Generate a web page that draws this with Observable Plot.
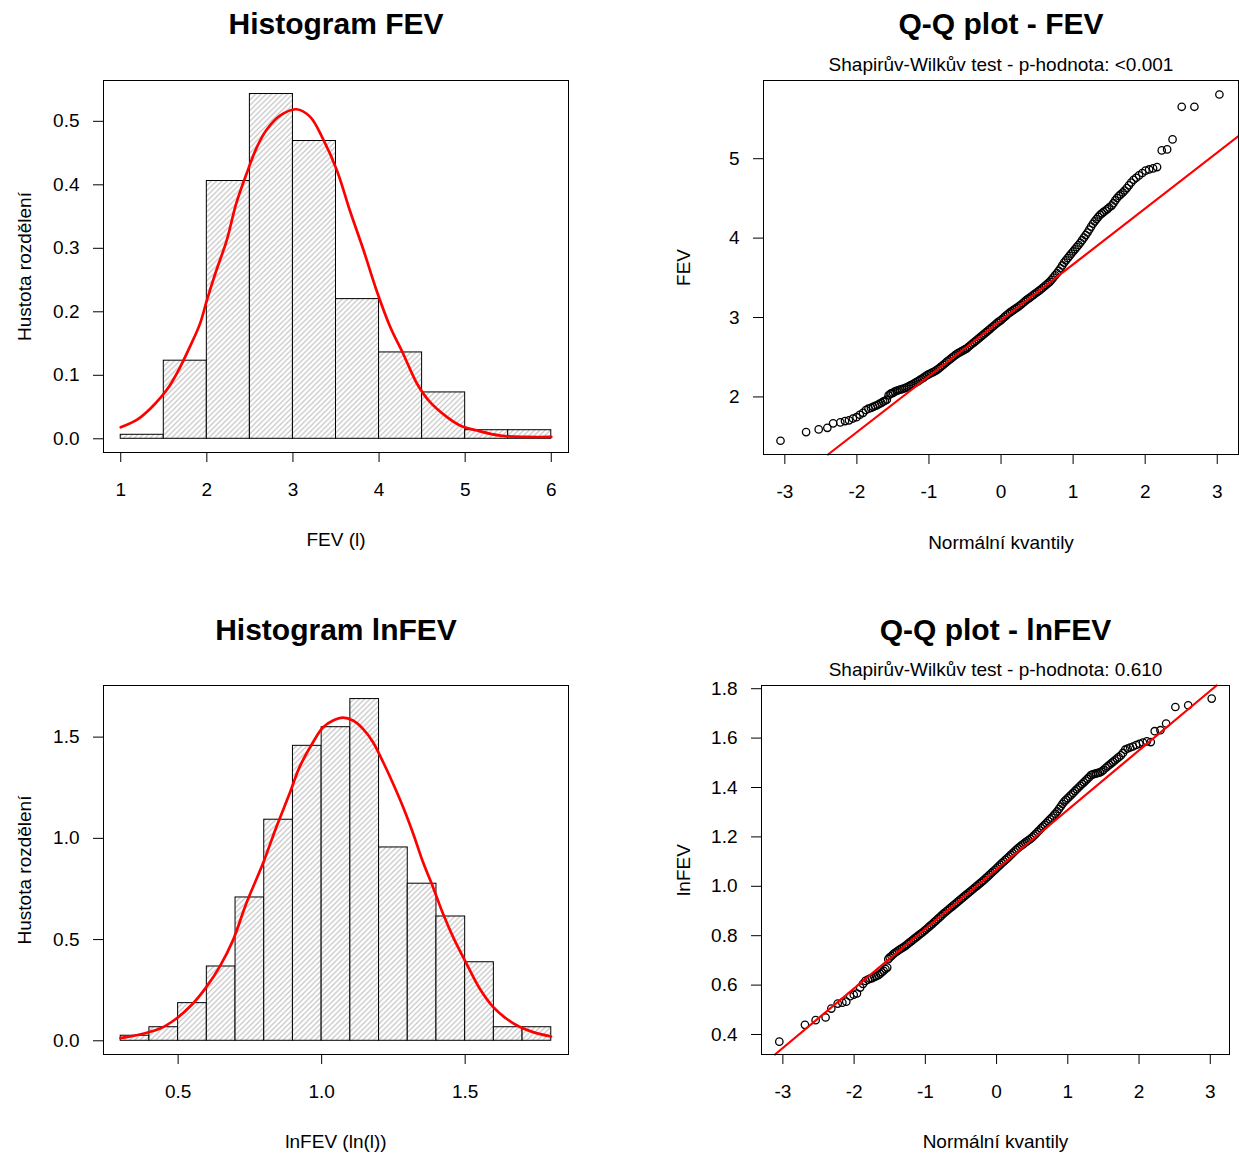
<!DOCTYPE html>
<html><head><meta charset="utf-8">
<script src="https://cdn.jsdelivr.net/npm/d3@7"></script>
<script src="https://cdn.jsdelivr.net/npm/@observablehq/plot@0.6"></script>
<style>
html,body{margin:0;padding:0;background:#fff;overflow:hidden}
#wrap{position:relative;width:1239px;height:1153px;background:#fff;overflow:hidden}
</style></head><body><div id="wrap"></div>
<script>
// ---------- DATA ----------
// Histogram FEV (density per bin)
const fevBinLo = [1, 1.5, 2, 2.5, 3, 3.5, 4, 4.5, 5, 5.5];
const fevBinHi = [1.5, 2, 2.5, 3, 3.5, 4, 4.5, 5, 5.5, 6];
const fevDensity = [0.0063, 0.123, 0.406, 0.543, 0.469, 0.220, 0.136, 0.073, 0.0135, 0.0135];
const fevKdeX = [1.0,1.2,1.34,1.47,1.57,1.69,1.80,1.92,2.0,2.11,2.23,2.34,2.46,2.58,2.69,2.85,3.04,3.20,3.35,3.51,3.66,3.82,3.97,4.13,4.28,4.44,4.59,4.79,4.94,5.14,5.41,5.72,6.0];
const fevKdeY = [0.018,0.031,0.047,0.066,0.084,0.113,0.144,0.181,0.218,0.265,0.312,0.370,0.417,0.459,0.486,0.509,0.519,0.507,0.472,0.423,0.360,0.297,0.234,0.176,0.134,0.087,0.058,0.034,0.021,0.013,0.005,0.003,0.003];

// Histogram lnFEV
const lnBinLo = [0.3,0.4,0.5,0.6,0.7,0.8,0.9,1.0,1.1,1.2,1.3,1.4,1.5,1.6,1.7];
const lnBinHi = [0.4,0.5,0.6,0.7,0.8,0.9,1.0,1.1,1.2,1.3,1.4,1.5,1.6,1.7,1.8];
const lnDensity = [0.025,0.067,0.186,0.367,0.708,1.092,1.457,1.549,1.688,0.955,0.776,0.614,0.388,0.067,0.067];
const lnKdeX = [0.299,0.377,0.435,0.493,0.551,0.598,0.644,0.691,0.737,0.795,0.842,0.888,0.923,0.970,1.005,1.040,1.074,1.109,1.144,1.179,1.214,1.249,1.284,1.319,1.353,1.388,1.423,1.458,1.505,1.551,1.598,1.644,1.691,1.737,1.799];
const lnKdeY = [0.013,0.035,0.059,0.109,0.183,0.265,0.364,0.496,0.677,0.874,1.055,1.220,1.352,1.475,1.549,1.582,1.596,1.582,1.541,1.475,1.377,1.270,1.154,1.023,0.883,0.759,0.627,0.512,0.380,0.257,0.166,0.109,0.068,0.043,0.021];

// Q-Q points: theoretical quantiles of the dense middle part (shared grid)
const qqGridX = [-1.5,-1.475,-1.45,-1.425,-1.4,-1.375,-1.35,-1.325,-1.3,-1.275,
 -1.25,-1.225,-1.2,-1.175,-1.15,-1.125,-1.1,-1.075,-1.05,-1.025,
 -1.0,-0.975,-0.95,-0.925,-0.9,-0.875,-0.85,-0.825,-0.8,-0.775,
 -0.75,-0.725,-0.7,-0.675,-0.65,-0.625,-0.6,-0.575,-0.55,-0.525,
 -0.5,-0.475,-0.45,-0.425,-0.4,-0.375,-0.35,-0.325,-0.3,-0.275,
 -0.25,-0.225,-0.2,-0.175,-0.15,-0.125,-0.1,-0.075,-0.05,-0.025,
 0,0.025,0.05,0.075,0.1,0.125,0.15,0.175,0.2,0.225,
 0.25,0.275,0.3,0.325,0.35,0.375,0.4,0.425,0.45,0.475,
 0.5,0.525,0.55,0.575,0.6,0.625,0.65,0.675,0.7,0.725,
 0.75,0.775,0.8,0.825,0.85,0.875,0.9,0.925,0.95,0.975,
 1.0,1.025,1.05,1.075,1.1,1.125,1.15,1.175,1.2,1.225,
 1.25,1.275,1.3,1.325,1.35,1.375,1.4,1.425,1.45,1.475,1.5];

// Q-Q FEV
const qqFevLowX = [-3.06,-2.705,-2.53,-2.41,-2.33,-2.23,-2.165,-2.11,-2.055,-2.005,-1.96,-1.915,-1.875,-1.84,-1.805,-1.775,-1.745,-1.715,-1.69,-1.66,-1.635,-1.61,-1.585,-1.56,-1.535,-1.52];
const qqFevLowY = [1.448,1.557,1.591,1.611,1.667,1.679,1.696,1.705,1.728,1.745,1.775,1.80,1.835,1.852,1.862,1.875,1.888,1.898,1.912,1.925,1.94,1.952,1.965,2.02,2.04,2.044];
const qqFevMidY = [2.052,2.066,2.077,2.084,2.092,2.099,2.106,2.114,2.124,2.136,
 2.148,2.160,2.173,2.187,2.200,2.214,2.229,2.244,2.260,2.275,
 2.287,2.298,2.309,2.320,2.334,2.350,2.368,2.386,2.405,2.424,
 2.444,2.462,2.480,2.498,2.516,2.533,2.548,2.561,2.574,2.586,
 2.598,2.612,2.632,2.651,2.670,2.688,2.706,2.725,2.744,2.763,
 2.782,2.801,2.820,2.839,2.858,2.877,2.896,2.915,2.935,2.952,
 2.968,2.988,3.008,3.028,3.047,3.064,3.081,3.097,3.111,3.126,
 3.143,3.161,3.180,3.199,3.218,3.235,3.251,3.268,3.285,3.302,
 3.318,3.335,3.353,3.372,3.391,3.410,3.429,3.449,3.475,3.503,
 3.531,3.558,3.587,3.620,3.656,3.692,3.720,3.748,3.776,3.805,
 3.832,3.859,3.886,3.913,3.942,3.974,4.006,4.038,4.071,4.108,
 4.145,4.181,4.211,4.240,4.268,4.294,4.312,4.330,4.348,4.366,4.386];
const qqFevHighX = [1.535,1.56,1.585,1.61,1.635,1.66,1.69,1.715,1.745,1.775,1.805,1.84,1.875,1.915,1.96,2.005,2.055,2.11,2.165,2.23,2.305,2.38,2.507,2.683,3.03];
const qqFevHighY = [4.41,4.44,4.475,4.505,4.53,4.55,4.575,4.60,4.63,4.665,4.70,4.735,4.76,4.79,4.82,4.85,4.865,4.878,4.895,5.105,5.117,5.243,5.654,5.654,5.809];
const qqFevLine = {intercept: 2.965, slope: 0.704};

// Q-Q lnFEV
const qqLnLowX = [-3.05,-2.69,-2.54,-2.40,-2.32,-2.23,-2.165,-2.11,-2.055,-2.005,-1.96,-1.915,-1.875,-1.84,-1.805,-1.775,-1.745,-1.715,-1.69,-1.66,-1.635,-1.61,-1.585,-1.56,-1.535,-1.52];
const qqLnLowY = [0.371,0.439,0.458,0.469,0.505,0.525,0.529,0.533,0.555,0.561,0.566,0.590,0.605,0.617,0.622,0.626,0.628,0.633,0.636,0.640,0.646,0.652,0.658,0.665,0.671,0.705];
const qqLnMidY = [0.712,0.718,0.725,0.731,0.736,0.741,0.746,0.750,0.755,0.760,
 0.766,0.772,0.777,0.783,0.789,0.794,0.800,0.806,0.811,0.817,
 0.823,0.829,0.836,0.842,0.848,0.855,0.861,0.868,0.874,0.881,
 0.888,0.894,0.900,0.906,0.912,0.918,0.924,0.930,0.936,0.942,
 0.948,0.954,0.960,0.966,0.972,0.978,0.984,0.990,0.996,1.002,
 1.008,1.014,1.020,1.026,1.033,1.039,1.046,1.053,1.060,1.066,
 1.073,1.080,1.087,1.094,1.100,1.107,1.113,1.120,1.127,1.134,
 1.141,1.148,1.154,1.160,1.166,1.171,1.177,1.182,1.187,1.192,
 1.198,1.205,1.212,1.220,1.227,1.235,1.242,1.249,1.256,1.264,
 1.271,1.278,1.286,1.294,1.303,1.313,1.323,1.334,1.343,1.350,
 1.357,1.364,1.371,1.378,1.386,1.393,1.400,1.407,1.414,1.421,
 1.428,1.435,1.442,1.450,1.453,1.455,1.457,1.459,1.461,1.465,1.471];
const qqLnHighX = [1.535,1.56,1.585,1.61,1.635,1.66,1.69,1.715,1.745,1.775,1.805,1.84,1.875,1.915,1.96,2.005,2.055,2.11,2.165,2.22,2.30,2.38,2.51,2.69,3.02];
const qqLnHighY = [1.480,1.486,1.492,1.498,1.504,1.510,1.517,1.523,1.530,1.540,1.553,1.558,1.562,1.566,1.572,1.577,1.582,1.587,1.584,1.628,1.632,1.659,1.726,1.733,1.760];
const qqLnLine = {intercept: 1.0686, slope: 0.241};

// Tick values
const fevXTicks = [1, 2, 3, 4, 5, 6];
const fevYTicks = [0, 0.1, 0.2, 0.3, 0.4, 0.5];
const lnXTicks = [0.5, 1.0, 1.5];
const lnYTicks = [0, 0.5, 1.0, 1.5];
const qqXTicks = [-3, -2, -1, 0, 1, 2, 3];
const qqFevYTicks = [2, 3, 4, 5];
const qqLnYTicks = [0.4, 0.6, 0.8, 1.0, 1.2, 1.4, 1.6, 1.8];

// Texts
const titles = ["Histogram FEV", "Q-Q plot - FEV", "Histogram lnFEV", "Q-Q plot - lnFEV"];
const subtitles = ["Shapirův-Wilkův test - p-hodnota: <0.001", "Shapirův-Wilkův test - p-hodnota: 0.610"];
const xLabels = ["FEV (l)", "Normální kvantily", "lnFEV (ln(l))", "Normální kvantily"];
const yLabels = ["Hustota rozdělení", "FEV", "Hustota rozdělení", "lnFEV"];

// ---------- DRAWING ----------
const FONT = "'Liberation Sans', Arial, Helvetica, sans-serif";
const wrap = document.getElementById("wrap");
const fmt1 = d3.format(".1f");
const fmtInt = d => (d < 0 ? "-" + (-d) : String(d));

function addHatch(svg, id) {
  const ns = "http://www.w3.org/2000/svg";
  const P = 5.3;
  const defs = document.createElementNS(ns, "defs");
  const pat = document.createElementNS(ns, "pattern");
  pat.setAttribute("id", id);
  pat.setAttribute("patternUnits", "userSpaceOnUse");
  pat.setAttribute("width", P);
  pat.setAttribute("height", P);
  const bg = document.createElementNS(ns, "rect");
  bg.setAttribute("width", P); bg.setAttribute("height", P); bg.setAttribute("fill", "white");
  const path = document.createElementNS(ns, "path");
  path.setAttribute("d", `M-1,1 L1,-1 M0,${P} L${P},0 M${P - 1},${P + 1} L${P + 1},${P - 1}`);
  path.setAttribute("stroke", "#c2c2c2");
  path.setAttribute("stroke-width", "1.1");
  pat.appendChild(bg);
  pat.appendChild(path);
  defs.appendChild(pat);
  svg.insertBefore(defs, svg.firstChild);
}

function panel(spec) {
  const {svgBox, frame, xDomain, yDomain, xTicks, yTicks, xFmt, yFmt, marks,
         title, titleY, subtitle, subtitleY, xLabel, xLabelY, yLabel, yLabelX, hatchId} = spec;
  const [sl, st, sw, sh] = svgBox;
  const mL = frame.l - sl, mR = sl + sw - frame.r, mT = frame.t - st, mB = st + sh - frame.b;
  const textMarks = [
    Plot.text([title], {text: d => d, frameAnchor: "top", lineAnchor: "bottom", textAnchor: "middle",
      dy: titleY - frame.t, fontSize: 30, fontWeight: "bold", fill: "black"}),
    Plot.text([xLabel], {text: d => d, frameAnchor: "bottom", lineAnchor: "bottom", textAnchor: "middle",
      dy: xLabelY - frame.b, fontSize: 19, fill: "black"}),
    Plot.text([yLabel], {text: d => d, frameAnchor: "left", lineAnchor: "bottom", textAnchor: "middle",
      rotate: -90, dx: yLabelX - frame.l, fontSize: 19, fill: "black"})
  ];
  if (subtitle) textMarks.push(Plot.text([subtitle], {text: d => d, frameAnchor: "top", lineAnchor: "bottom",
      textAnchor: "middle", dy: subtitleY - frame.t, fontSize: 19, fill: "black"}));
  const svg = Plot.plot({
    width: sw, height: sh,
    marginLeft: mL, marginRight: mR, marginTop: mT, marginBottom: mB,
    style: {fontFamily: FONT, background: "white", color: "black", overflow: "visible"},
    x: {domain: xDomain},
    y: {domain: yDomain},
    marks: [
      ...marks,
      Plot.frame({stroke: "black", strokeWidth: 1}),
      Plot.axisX({ticks: xTicks, tickFormat: xFmt, anchor: "bottom", tickSize: 10, tickPadding: 20,
        fontSize: 19, label: null, stroke: "black"}),
      Plot.axisY({ticks: yTicks, tickFormat: yFmt, anchor: "left", tickSize: 10, tickPadding: 14,
        fontSize: 19, label: null, stroke: "black"}),
      ...textMarks
    ]
  });
  if (hatchId) addHatch(svg, hatchId);
  svg.style.position = "absolute";
  svg.style.left = sl + "px";
  svg.style.top = st + "px";
  wrap.appendChild(svg);
}

function histMarks(lo, hi, dens, kx, ky, hatchId) {
  return [
    Plot.rect(dens, {x1: lo, x2: hi, y1: 0, y2: dens, fill: `url(#${hatchId})`, stroke: "black", strokeWidth: 1, inset: 0}),
    Plot.line(kx, {x: kx, y: ky, stroke: "red", strokeWidth: 2.7, curve: "catmull-rom"})
  ];
}

function qqMarks(X, Y, line, xd, yd) {
  const a = line.intercept, b = line.slope;
  let x1 = xd[0], x2 = xd[1];
  if (a + b * x1 < yd[0]) x1 = (yd[0] - a) / b;
  if (a + b * x2 > yd[1]) x2 = (yd[1] - a) / b;
  const seg = [x1, x2];
  return [
    Plot.dot(X, {x: X, y: Y, r: 3.7, stroke: "black", fill: "none", strokeWidth: 1.3}),
    Plot.line(seg, {x: d => d, y: d => a + b * d, stroke: "red", strokeWidth: 2.2})
  ];
}

// Top-left: Histogram FEV
panel({
  svgBox: [0, 0, 620, 576], frame: {l: 103, r: 568, t: 80, b: 452},
  xDomain: [0.8, 6.2], yDomain: [-0.0216, 0.5643],
  xTicks: fevXTicks, yTicks: fevYTicks, xFmt: fmtInt, yFmt: fmt1,
  marks: histMarks(fevBinLo, fevBinHi, fevDensity, fevKdeX, fevKdeY, "hatchA"), hatchId: "hatchA",
  title: titles[0], titleY: 33.5, xLabel: xLabels[0], xLabelY: 545.5, yLabel: yLabels[0], yLabelX: 30
});

// Top-right: Q-Q FEV
const qqFevX = [...qqFevLowX, ...qqGridX, ...qqFevHighX];
const qqFevY = [...qqFevLowY, ...qqFevMidY, ...qqFevHighY];
const trX = [-3.296, 3.295], trY = [1.275, 5.985];
panel({
  svgBox: [620, 0, 619, 576], frame: {l: 763, r: 1238, t: 80, b: 454},
  xDomain: trX, yDomain: trY,
  xTicks: qqXTicks, yTicks: qqFevYTicks, xFmt: fmtInt, yFmt: fmtInt,
  marks: qqMarks(qqFevX, qqFevY, qqFevLine, trX, trY),
  title: titles[1], titleY: 33.5, subtitle: subtitles[0], subtitleY: 70,
  xLabel: xLabels[1], xLabelY: 548, yLabel: yLabels[1], yLabelX: 689
});

// Bottom-left: Histogram lnFEV
panel({
  svgBox: [0, 576, 620, 577], frame: {l: 103, r: 568, t: 685, b: 1054},
  xDomain: [0.24, 1.86], yDomain: [-0.0677, 1.755],
  xTicks: lnXTicks, yTicks: lnYTicks, xFmt: fmt1, yFmt: fmt1,
  marks: histMarks(lnBinLo, lnBinHi, lnDensity, lnKdeX, lnKdeY, "hatchB"), hatchId: "hatchB",
  title: titles[2], titleY: 639, xLabel: xLabels[2], xLabelY: 1147, yLabel: yLabels[2], yLabelX: 30
});

// Bottom-right: Q-Q lnFEV
const qqLnX = [...qqLnLowX, ...qqGridX, ...qqLnHighX];
const qqLnY = [...qqLnLowY, ...qqLnMidY, ...qqLnHighY];
const brX = [-3.30, 3.27], brY = [0.319, 1.813];
panel({
  svgBox: [620, 576, 619, 577], frame: {l: 761, r: 1229, t: 685, b: 1054},
  xDomain: brX, yDomain: brY,
  xTicks: qqXTicks, yTicks: qqLnYTicks, xFmt: fmtInt, yFmt: fmt1,
  marks: qqMarks(qqLnX, qqLnY, qqLnLine, brX, brY),
  title: titles[3], titleY: 639, subtitle: subtitles[1], subtitleY: 675,
  xLabel: xLabels[3], xLabelY: 1147, yLabel: yLabels[3], yLabelX: 689
});
</script></body></html>
